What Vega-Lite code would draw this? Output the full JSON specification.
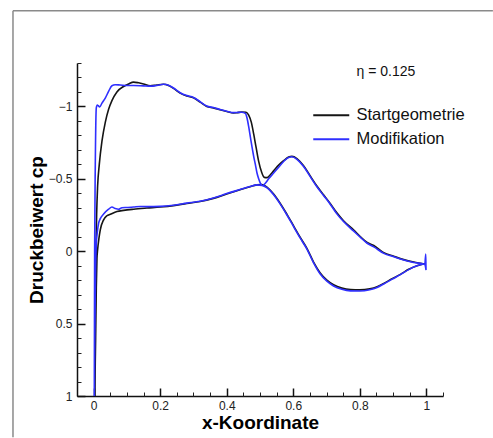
{
  "$schema": "https://vega.github.io/schema/vega-lite/v6.json",
  "autosize": {"type": "none"},
  "width": 366,
  "height": 333,
  "padding": {"left": 77, "top": 63, "right": 50, "bottom": 42},
  "background": "white",
  "config": {
    "view": {"stroke": null},
    "font": "Liberation Sans",
    "axis": {"grid": false, "labelFont": "Liberation Sans", "titleFont": "Liberation Sans"}
  },
  "datasets": {
    "one": [{"label": "η = 0.125"}],
    "cp": [
      {"s": "Startgeometrie", "x": 0.997, "cp": 0.09},
      {"s": "Startgeometrie", "x": 0.962, "cp": 0.075},
      {"s": "Startgeometrie", "x": 0.932, "cp": 0.058},
      {"s": "Startgeometrie", "x": 0.902, "cp": 0.035},
      {"s": "Startgeometrie", "x": 0.872, "cp": 0.01},
      {"s": "Startgeometrie", "x": 0.842, "cp": -0.04},
      {"s": "Startgeometrie", "x": 0.822, "cp": -0.06},
      {"s": "Startgeometrie", "x": 0.802, "cp": -0.1},
      {"s": "Startgeometrie", "x": 0.781, "cp": -0.148},
      {"s": "Startgeometrie", "x": 0.751, "cp": -0.21},
      {"s": "Startgeometrie", "x": 0.731, "cp": -0.265},
      {"s": "Startgeometrie", "x": 0.711, "cp": -0.33},
      {"s": "Startgeometrie", "x": 0.691, "cp": -0.39},
      {"s": "Startgeometrie", "x": 0.671, "cp": -0.45},
      {"s": "Startgeometrie", "x": 0.651, "cp": -0.52},
      {"s": "Startgeometrie", "x": 0.631, "cp": -0.59},
      {"s": "Startgeometrie", "x": 0.611, "cp": -0.64},
      {"s": "Startgeometrie", "x": 0.596, "cp": -0.655},
      {"s": "Startgeometrie", "x": 0.586, "cp": -0.65},
      {"s": "Startgeometrie", "x": 0.571, "cp": -0.625},
      {"s": "Startgeometrie", "x": 0.556, "cp": -0.595},
      {"s": "Startgeometrie", "x": 0.541, "cp": -0.555},
      {"s": "Startgeometrie", "x": 0.531, "cp": -0.528},
      {"s": "Startgeometrie", "x": 0.521, "cp": -0.508},
      {"s": "Startgeometrie", "x": 0.513, "cp": -0.51},
      {"s": "Startgeometrie", "x": 0.505, "cp": -0.545},
      {"s": "Startgeometrie", "x": 0.496, "cp": -0.62},
      {"s": "Startgeometrie", "x": 0.488, "cp": -0.72},
      {"s": "Startgeometrie", "x": 0.481, "cp": -0.81},
      {"s": "Startgeometrie", "x": 0.474, "cp": -0.89},
      {"s": "Startgeometrie", "x": 0.466, "cp": -0.94},
      {"s": "Startgeometrie", "x": 0.458, "cp": -0.96},
      {"s": "Startgeometrie", "x": 0.445, "cp": -0.962},
      {"s": "Startgeometrie", "x": 0.43, "cp": -0.956},
      {"s": "Startgeometrie", "x": 0.42, "cp": -0.955},
      {"s": "Startgeometrie", "x": 0.4, "cp": -0.965},
      {"s": "Startgeometrie", "x": 0.38, "cp": -0.977},
      {"s": "Startgeometrie", "x": 0.36, "cp": -0.99},
      {"s": "Startgeometrie", "x": 0.34, "cp": -1.0},
      {"s": "Startgeometrie", "x": 0.32, "cp": -1.03},
      {"s": "Startgeometrie", "x": 0.3, "cp": -1.06},
      {"s": "Startgeometrie", "x": 0.28, "cp": -1.072},
      {"s": "Startgeometrie", "x": 0.26, "cp": -1.092},
      {"s": "Startgeometrie", "x": 0.24, "cp": -1.125},
      {"s": "Startgeometrie", "x": 0.225, "cp": -1.145},
      {"s": "Startgeometrie", "x": 0.21, "cp": -1.153},
      {"s": "Startgeometrie", "x": 0.19, "cp": -1.148},
      {"s": "Startgeometrie", "x": 0.17, "cp": -1.142},
      {"s": "Startgeometrie", "x": 0.15, "cp": -1.155},
      {"s": "Startgeometrie", "x": 0.135, "cp": -1.163},
      {"s": "Startgeometrie", "x": 0.12, "cp": -1.168},
      {"s": "Startgeometrie", "x": 0.105, "cp": -1.155},
      {"s": "Startgeometrie", "x": 0.09, "cp": -1.138},
      {"s": "Startgeometrie", "x": 0.07, "cp": -1.1},
      {"s": "Startgeometrie", "x": 0.055, "cp": -1.04},
      {"s": "Startgeometrie", "x": 0.045, "cp": -0.98},
      {"s": "Startgeometrie", "x": 0.035, "cp": -0.89},
      {"s": "Startgeometrie", "x": 0.025, "cp": -0.76},
      {"s": "Startgeometrie", "x": 0.017, "cp": -0.6},
      {"s": "Startgeometrie", "x": 0.012, "cp": -0.45},
      {"s": "Startgeometrie", "x": 0.009, "cp": -0.25},
      {"s": "Startgeometrie", "x": 0.007, "cp": 0.0},
      {"s": "Startgeometrie", "x": 0.005, "cp": 0.4},
      {"s": "Startgeometrie", "x": 0.004, "cp": 1.0},
      {"s": "Startgeometrie", "x": 0.006, "cp": 0.6},
      {"s": "Startgeometrie", "x": 0.008, "cp": 0.25},
      {"s": "Startgeometrie", "x": 0.01, "cp": 0.05},
      {"s": "Startgeometrie", "x": 0.012, "cp": -0.01},
      {"s": "Startgeometrie", "x": 0.016, "cp": -0.09},
      {"s": "Startgeometrie", "x": 0.02, "cp": -0.148},
      {"s": "Startgeometrie", "x": 0.03, "cp": -0.217},
      {"s": "Startgeometrie", "x": 0.04, "cp": -0.245},
      {"s": "Startgeometrie", "x": 0.05, "cp": -0.255},
      {"s": "Startgeometrie", "x": 0.07, "cp": -0.274},
      {"s": "Startgeometrie", "x": 0.09, "cp": -0.282},
      {"s": "Startgeometrie", "x": 0.12, "cp": -0.29},
      {"s": "Startgeometrie", "x": 0.16, "cp": -0.298},
      {"s": "Startgeometrie", "x": 0.2, "cp": -0.305},
      {"s": "Startgeometrie", "x": 0.24, "cp": -0.315},
      {"s": "Startgeometrie", "x": 0.28, "cp": -0.33},
      {"s": "Startgeometrie", "x": 0.32, "cp": -0.343},
      {"s": "Startgeometrie", "x": 0.36, "cp": -0.365},
      {"s": "Startgeometrie", "x": 0.4, "cp": -0.395},
      {"s": "Startgeometrie", "x": 0.44, "cp": -0.424},
      {"s": "Startgeometrie", "x": 0.47, "cp": -0.445},
      {"s": "Startgeometrie", "x": 0.49, "cp": -0.458},
      {"s": "Startgeometrie", "x": 0.505, "cp": -0.46},
      {"s": "Startgeometrie", "x": 0.52, "cp": -0.445},
      {"s": "Startgeometrie", "x": 0.541, "cp": -0.395},
      {"s": "Startgeometrie", "x": 0.561, "cp": -0.33},
      {"s": "Startgeometrie", "x": 0.581, "cp": -0.255},
      {"s": "Startgeometrie", "x": 0.601, "cp": -0.175},
      {"s": "Startgeometrie", "x": 0.621, "cp": -0.095},
      {"s": "Startgeometrie", "x": 0.641, "cp": -0.02},
      {"s": "Startgeometrie", "x": 0.661, "cp": 0.075},
      {"s": "Startgeometrie", "x": 0.681, "cp": 0.15},
      {"s": "Startgeometrie", "x": 0.701, "cp": 0.2},
      {"s": "Startgeometrie", "x": 0.721, "cp": 0.232},
      {"s": "Startgeometrie", "x": 0.746, "cp": 0.255},
      {"s": "Startgeometrie", "x": 0.772, "cp": 0.265},
      {"s": "Startgeometrie", "x": 0.8, "cp": 0.267},
      {"s": "Startgeometrie", "x": 0.83, "cp": 0.26},
      {"s": "Startgeometrie", "x": 0.852, "cp": 0.245},
      {"s": "Startgeometrie", "x": 0.872, "cp": 0.222},
      {"s": "Startgeometrie", "x": 0.897, "cp": 0.19},
      {"s": "Startgeometrie", "x": 0.922, "cp": 0.16},
      {"s": "Startgeometrie", "x": 0.947, "cp": 0.125},
      {"s": "Startgeometrie", "x": 0.972, "cp": 0.1},
      {"s": "Startgeometrie", "x": 0.997, "cp": 0.085},

      {"s": "Modifikation", "x": 0.996, "cp": 0.085},
      {"s": "Modifikation", "x": 0.998, "cp": 0.02},
      {"s": "Modifikation", "x": 0.999, "cp": 0.13},
      {"s": "Modifikation", "x": 0.994, "cp": 0.09},
      {"s": "Modifikation", "x": 0.962, "cp": 0.078},
      {"s": "Modifikation", "x": 0.932, "cp": 0.06},
      {"s": "Modifikation", "x": 0.902, "cp": 0.038},
      {"s": "Modifikation", "x": 0.872, "cp": 0.015},
      {"s": "Modifikation", "x": 0.842, "cp": -0.03},
      {"s": "Modifikation", "x": 0.822, "cp": -0.055},
      {"s": "Modifikation", "x": 0.802, "cp": -0.095},
      {"s": "Modifikation", "x": 0.781, "cp": -0.14},
      {"s": "Modifikation", "x": 0.751, "cp": -0.205},
      {"s": "Modifikation", "x": 0.731, "cp": -0.258},
      {"s": "Modifikation", "x": 0.711, "cp": -0.325},
      {"s": "Modifikation", "x": 0.691, "cp": -0.385},
      {"s": "Modifikation", "x": 0.671, "cp": -0.445},
      {"s": "Modifikation", "x": 0.651, "cp": -0.515},
      {"s": "Modifikation", "x": 0.631, "cp": -0.585},
      {"s": "Modifikation", "x": 0.611, "cp": -0.635},
      {"s": "Modifikation", "x": 0.596, "cp": -0.652},
      {"s": "Modifikation", "x": 0.586, "cp": -0.648},
      {"s": "Modifikation", "x": 0.571, "cp": -0.62},
      {"s": "Modifikation", "x": 0.556, "cp": -0.58},
      {"s": "Modifikation", "x": 0.541, "cp": -0.54},
      {"s": "Modifikation", "x": 0.526, "cp": -0.5},
      {"s": "Modifikation", "x": 0.516, "cp": -0.47},
      {"s": "Modifikation", "x": 0.508, "cp": -0.452},
      {"s": "Modifikation", "x": 0.501, "cp": -0.47},
      {"s": "Modifikation", "x": 0.496, "cp": -0.5},
      {"s": "Modifikation", "x": 0.491, "cp": -0.54},
      {"s": "Modifikation", "x": 0.486, "cp": -0.6},
      {"s": "Modifikation", "x": 0.481, "cp": -0.655},
      {"s": "Modifikation", "x": 0.476, "cp": -0.72},
      {"s": "Modifikation", "x": 0.471, "cp": -0.79},
      {"s": "Modifikation", "x": 0.466, "cp": -0.86},
      {"s": "Modifikation", "x": 0.461, "cp": -0.92},
      {"s": "Modifikation", "x": 0.456, "cp": -0.952},
      {"s": "Modifikation", "x": 0.445, "cp": -0.96},
      {"s": "Modifikation", "x": 0.43, "cp": -0.958},
      {"s": "Modifikation", "x": 0.42, "cp": -0.957},
      {"s": "Modifikation", "x": 0.4, "cp": -0.967},
      {"s": "Modifikation", "x": 0.38, "cp": -0.979},
      {"s": "Modifikation", "x": 0.36, "cp": -0.992},
      {"s": "Modifikation", "x": 0.34, "cp": -1.003},
      {"s": "Modifikation", "x": 0.32, "cp": -1.033},
      {"s": "Modifikation", "x": 0.3, "cp": -1.062},
      {"s": "Modifikation", "x": 0.28, "cp": -1.075},
      {"s": "Modifikation", "x": 0.26, "cp": -1.095},
      {"s": "Modifikation", "x": 0.24, "cp": -1.127},
      {"s": "Modifikation", "x": 0.225, "cp": -1.147},
      {"s": "Modifikation", "x": 0.21, "cp": -1.153},
      {"s": "Modifikation", "x": 0.19, "cp": -1.145},
      {"s": "Modifikation", "x": 0.17, "cp": -1.14},
      {"s": "Modifikation", "x": 0.15, "cp": -1.142},
      {"s": "Modifikation", "x": 0.12, "cp": -1.145},
      {"s": "Modifikation", "x": 0.1, "cp": -1.145},
      {"s": "Modifikation", "x": 0.08, "cp": -1.148},
      {"s": "Modifikation", "x": 0.065, "cp": -1.15},
      {"s": "Modifikation", "x": 0.055, "cp": -1.143},
      {"s": "Modifikation", "x": 0.045, "cp": -1.104},
      {"s": "Modifikation", "x": 0.035, "cp": -1.058},
      {"s": "Modifikation", "x": 0.025, "cp": -1.023},
      {"s": "Modifikation", "x": 0.018, "cp": -0.996},
      {"s": "Modifikation", "x": 0.014, "cp": -1.005},
      {"s": "Modifikation", "x": 0.011, "cp": -1.01},
      {"s": "Modifikation", "x": 0.008, "cp": -0.99},
      {"s": "Modifikation", "x": 0.005, "cp": -0.6},
      {"s": "Modifikation", "x": 0.003, "cp": 0.0},
      {"s": "Modifikation", "x": 0.002, "cp": 1.0},
      {"s": "Modifikation", "x": 0.004, "cp": 0.5},
      {"s": "Modifikation", "x": 0.006, "cp": 0.1},
      {"s": "Modifikation", "x": 0.008, "cp": -0.05},
      {"s": "Modifikation", "x": 0.011, "cp": -0.13},
      {"s": "Modifikation", "x": 0.015, "cp": -0.194},
      {"s": "Modifikation", "x": 0.02, "cp": -0.225},
      {"s": "Modifikation", "x": 0.03, "cp": -0.257},
      {"s": "Modifikation", "x": 0.045, "cp": -0.29},
      {"s": "Modifikation", "x": 0.055, "cp": -0.305},
      {"s": "Modifikation", "x": 0.065, "cp": -0.295},
      {"s": "Modifikation", "x": 0.075, "cp": -0.29},
      {"s": "Modifikation", "x": 0.085, "cp": -0.3},
      {"s": "Modifikation", "x": 0.1, "cp": -0.302},
      {"s": "Modifikation", "x": 0.12, "cp": -0.305},
      {"s": "Modifikation", "x": 0.14, "cp": -0.309},
      {"s": "Modifikation", "x": 0.16, "cp": -0.308},
      {"s": "Modifikation", "x": 0.2, "cp": -0.31},
      {"s": "Modifikation", "x": 0.24, "cp": -0.318},
      {"s": "Modifikation", "x": 0.28, "cp": -0.332},
      {"s": "Modifikation", "x": 0.32, "cp": -0.345},
      {"s": "Modifikation", "x": 0.36, "cp": -0.368},
      {"s": "Modifikation", "x": 0.4, "cp": -0.398},
      {"s": "Modifikation", "x": 0.44, "cp": -0.426},
      {"s": "Modifikation", "x": 0.47, "cp": -0.447},
      {"s": "Modifikation", "x": 0.49, "cp": -0.458},
      {"s": "Modifikation", "x": 0.506, "cp": -0.455},
      {"s": "Modifikation", "x": 0.52, "cp": -0.44},
      {"s": "Modifikation", "x": 0.541, "cp": -0.39},
      {"s": "Modifikation", "x": 0.561, "cp": -0.325},
      {"s": "Modifikation", "x": 0.581, "cp": -0.25},
      {"s": "Modifikation", "x": 0.601, "cp": -0.17},
      {"s": "Modifikation", "x": 0.621, "cp": -0.09},
      {"s": "Modifikation", "x": 0.641, "cp": -0.015},
      {"s": "Modifikation", "x": 0.661, "cp": 0.08},
      {"s": "Modifikation", "x": 0.681, "cp": 0.157},
      {"s": "Modifikation", "x": 0.701, "cp": 0.207},
      {"s": "Modifikation", "x": 0.721, "cp": 0.24},
      {"s": "Modifikation", "x": 0.746, "cp": 0.263},
      {"s": "Modifikation", "x": 0.772, "cp": 0.274},
      {"s": "Modifikation", "x": 0.8, "cp": 0.275},
      {"s": "Modifikation", "x": 0.83, "cp": 0.266},
      {"s": "Modifikation", "x": 0.852, "cp": 0.25},
      {"s": "Modifikation", "x": 0.872, "cp": 0.226},
      {"s": "Modifikation", "x": 0.897, "cp": 0.193},
      {"s": "Modifikation", "x": 0.922, "cp": 0.162},
      {"s": "Modifikation", "x": 0.947, "cp": 0.127},
      {"s": "Modifikation", "x": 0.972, "cp": 0.101},
      {"s": "Modifikation", "x": 0.995, "cp": 0.087}
    ]
  },
  "layer": [
    {
      "data": {"name": "one"},
      "mark": {"type": "rule", "stroke": "#8a8a8a", "strokeWidth": 1.5},
      "encoding": {
        "x": {"datum": -0.2424, "type": "quantitative", "scale": {"domain": [-0.05, 1.05], "nice": false, "zero": false}, "axis": null},
        "y": {"datum": -1.661, "type": "quantitative", "scale": {"domain": [-1.3, 1], "nice": false, "zero": false, "reverse": true}, "axis": null},
        "y2": {"datum": 1.285}
      }
    },
    {
      "data": {"name": "one"},
      "mark": {"type": "rule", "stroke": "#8a8a8a", "strokeWidth": 1.5},
      "encoding": {
        "x": {"datum": -0.2424, "type": "quantitative", "scale": {"domain": [-0.05, 1.05], "nice": false, "zero": false}, "axis": null},
        "x2": {"datum": 1.2},
        "y": {"datum": -1.661, "type": "quantitative", "scale": {"domain": [-1.3, 1], "nice": false, "zero": false, "reverse": true}, "axis": null}
      }
    },
    {
      "data": {"name": "cp"},
      "mark": {"type": "line", "strokeWidth": 1.6, "interpolate": "monotone"},
      "encoding": {
        "x": {"field": "x", "type": "quantitative", "scale": {"domain": [-0.05, 1.05], "nice": false, "zero": false},
          "axis": {"orient": "bottom", "values": [0, 0.2, 0.4, 0.6, 0.8, 1], "format": "~g",
            "domainColor": "#111", "domainWidth": 1.5, "tickColor": "#111", "tickWidth": 1.5, "tickSize": -8,
            "labelFontSize": 12, "labelColor": "#222", "labelPadding": 12,
            "title": "x-Koordinate", "titleFontSize": 19, "titleFontWeight": "bold", "titleColor": "#000", "titlePadding": 2}},
        "y": {"field": "cp", "type": "quantitative", "scale": {"domain": [-1.3, 1], "nice": false, "zero": false, "reverse": true},
          "axis": {"orient": "left", "values": [-1, -0.5, 0, 0.5, 1], "format": "~g",
            "domainColor": "#111", "domainWidth": 1.5, "tickColor": "#111", "tickWidth": 1.5, "tickSize": -8,
            "labelFontSize": 12, "labelColor": "#222", "labelPadding": 13,
            "title": "Druckbeiwert cp", "titleFontSize": 19, "titleFontWeight": "bold", "titleColor": "#000", "titlePadding": 2}},
        "color": {"field": "s", "type": "nominal",
          "scale": {"domain": ["Startgeometrie", "Modifikation"], "range": ["#151515", "#2f2fff"]},
          "legend": {"orient": "none", "legendX": 246, "legendY": 44, "title": null, "padding": 0,
            "symbolType": "M-3,0L3,0", "symbolSize": 144, "symbolStrokeWidth": 1.8,
            "labelFontSize": 16.5, "labelColor": "#111", "labelOffset": 17, "rowPadding": 7}},
        "order": {"value": null}
      }
    },
    {
      "data": {"name": "one"},
      "mark": {"type": "text", "align": "left", "baseline": "middle", "fontSize": 14, "color": "#111"},
      "encoding": {
        "text": {"field": "label"},
        "x": {"datum": 0.79, "type": "quantitative", "scale": {"domain": [-0.05, 1.05], "nice": false, "zero": false},
          "axis": {"orient": "bottom", "values": [-0.05, 0.05, 0.1, 0.15, 0.25, 0.3, 0.35, 0.45, 0.5, 0.55, 0.65, 0.7, 0.75, 0.85, 0.9, 0.95, 1.05],
            "domain": false, "labels": false, "title": null, "tickSize": -4, "tickColor": "#222", "tickWidth": 1}},
        "y": {"datum": -1.24, "type": "quantitative", "scale": {"domain": [-1.3, 1], "nice": false, "zero": false, "reverse": true},
          "axis": {"orient": "left", "values": [-1.3, -1.2, -1.1, -0.9, -0.8, -0.7, -0.6, -0.4, -0.3, -0.2, -0.1, 0.1, 0.2, 0.3, 0.4, 0.6, 0.7, 0.8, 0.9],
            "domain": false, "labels": false, "title": null, "tickSize": -4, "tickColor": "#222", "tickWidth": 1}}
      }
    }
  ],
  "resolve": {"axis": {"x": "independent", "y": "independent"}}
}
